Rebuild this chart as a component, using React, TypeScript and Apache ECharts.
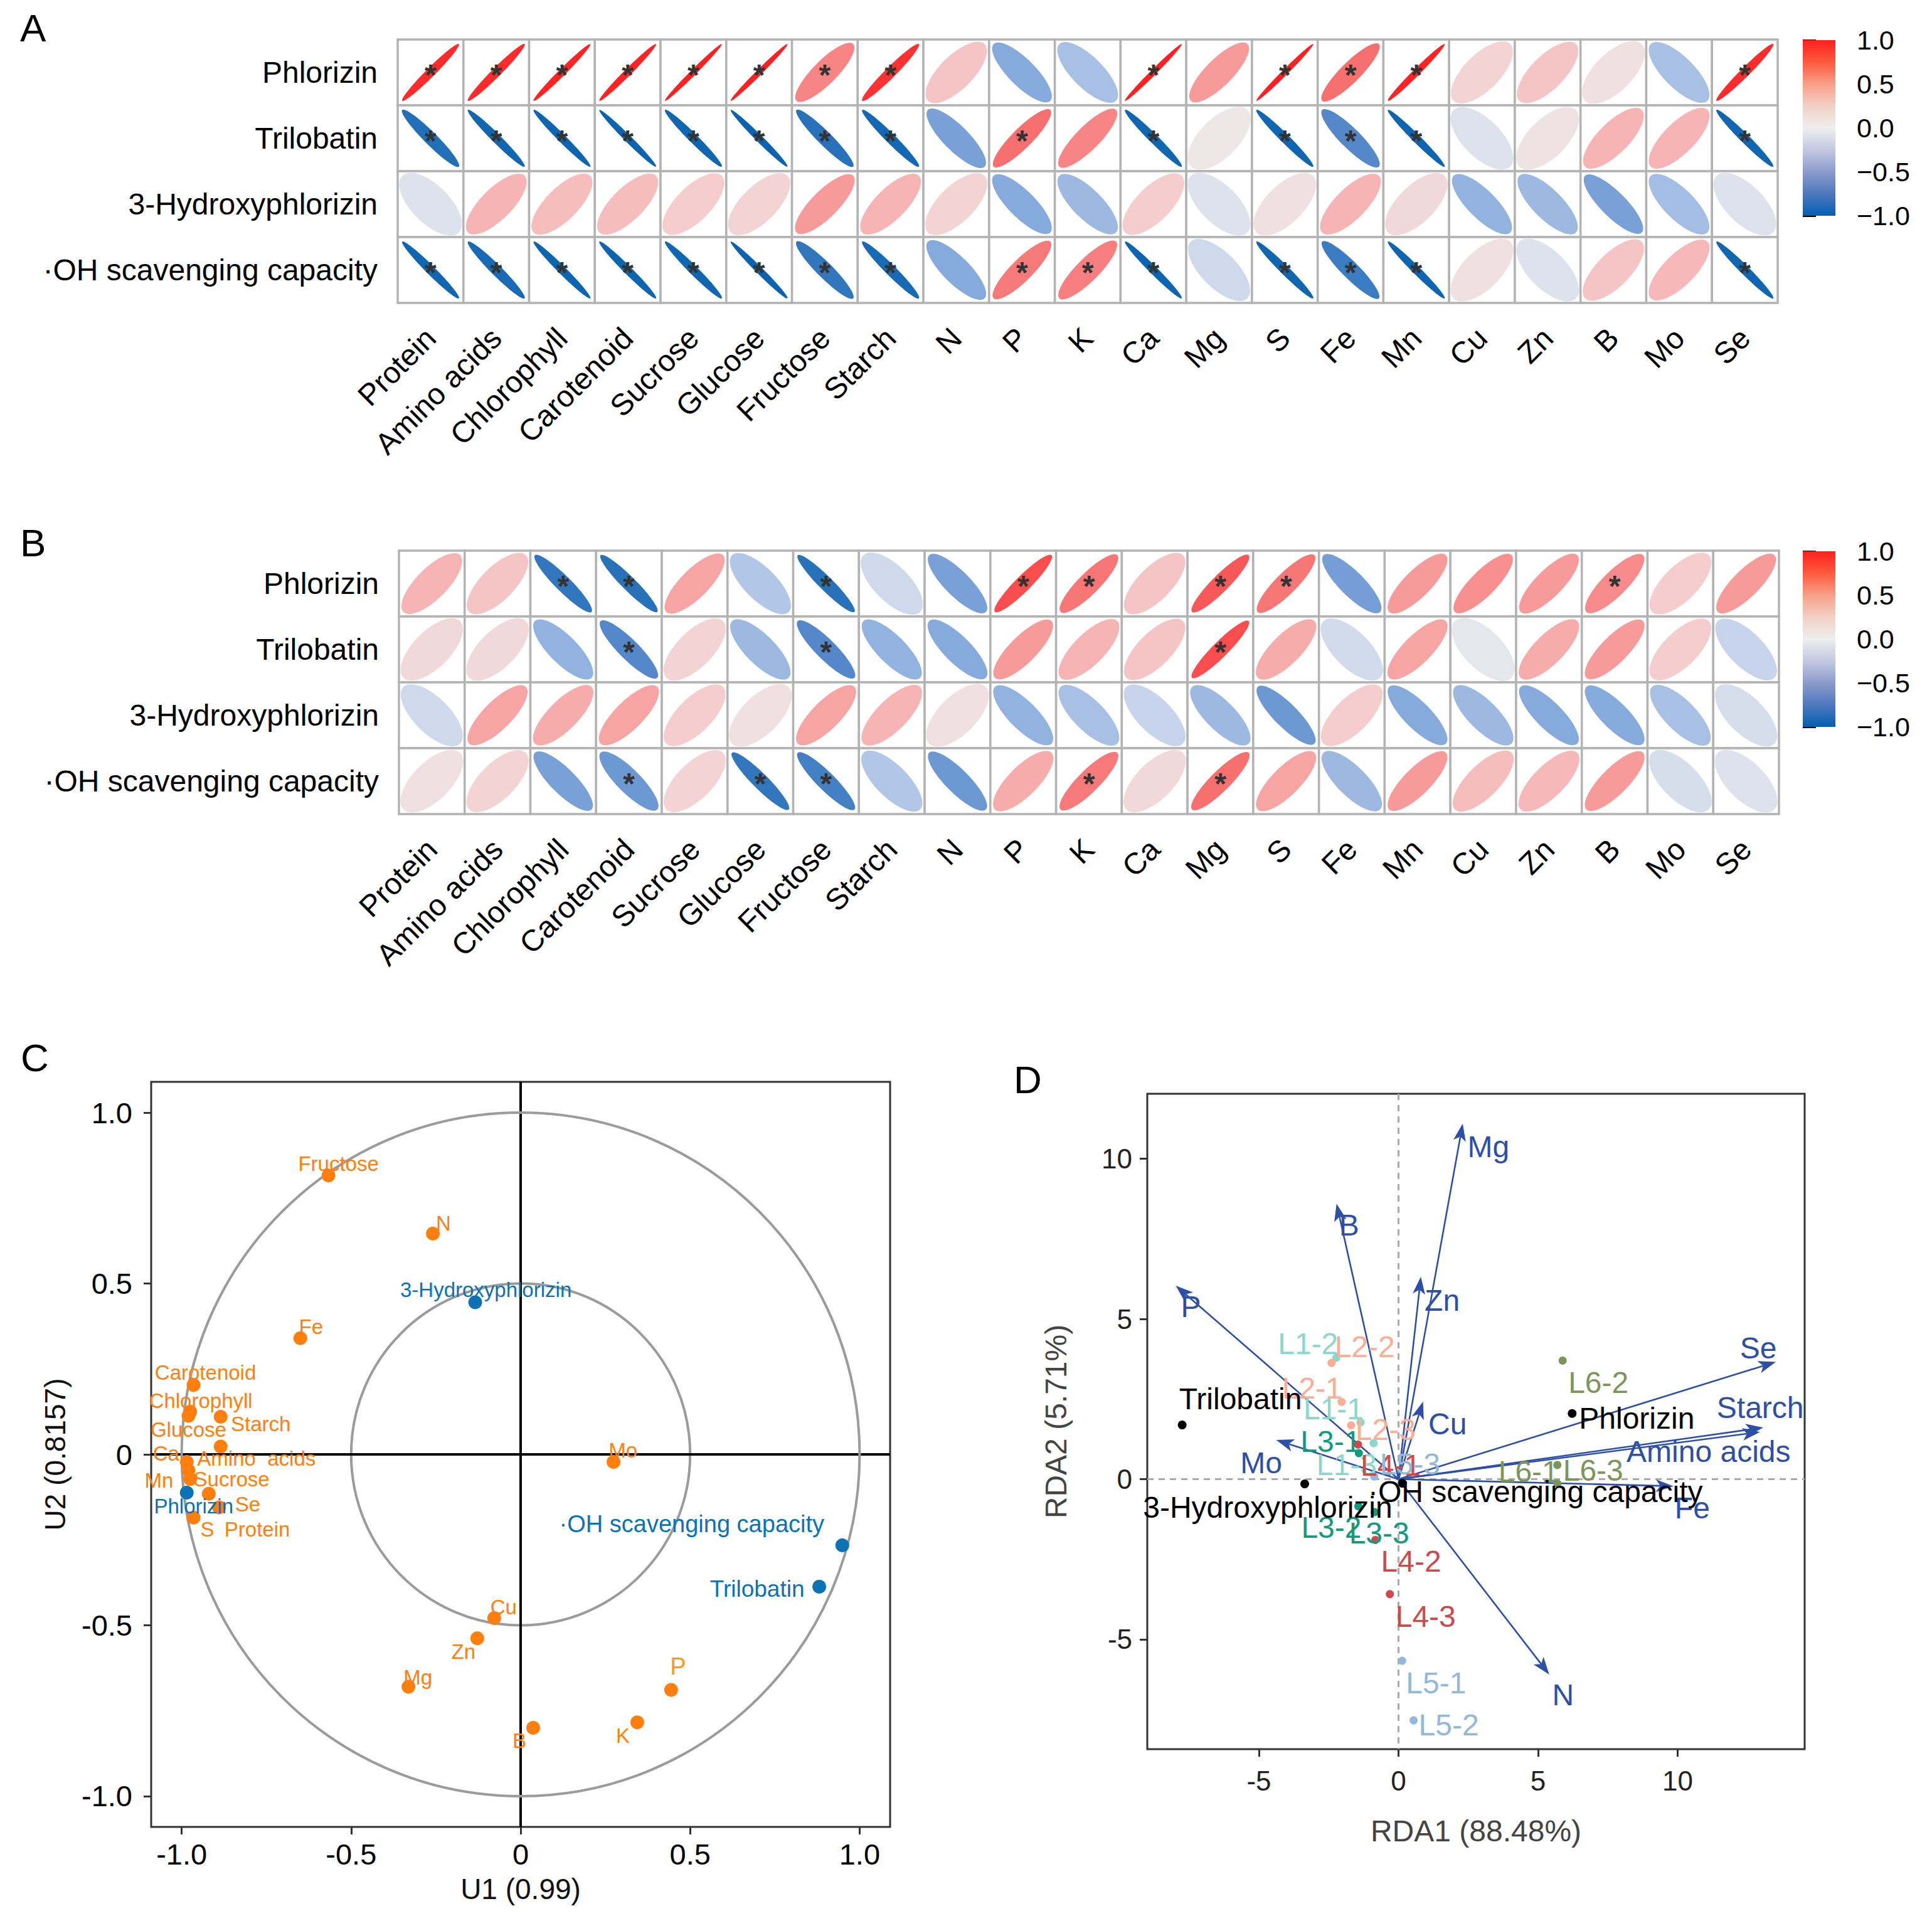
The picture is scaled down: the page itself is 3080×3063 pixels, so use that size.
import React, { useEffect, useRef } from 'react';
import * as echarts from 'echarts';

const FONT = '"Liberation Sans", Arial, Helvetica, sans-serif';

// ---------- Panels A & B : correlation ellipses ----------
const corrVariables = ['Protein', 'Amino acids', 'Chlorophyll', 'Carotenoid', 'Sucrose', 'Glucose', 'Fructose', 'Starch', 'N', 'P', 'K', 'Ca', 'Mg', 'S', 'Fe', 'Mn', 'Cu', 'Zn', 'B', 'Mo', 'Se'];
const compoundNames = ['Phlorizin', 'Trilobatin', '3-Hydroxyphlorizin', '\u00B7OH scavenging capacity'];

const aPhlorizin = [0.95, 0.95, 0.97, 0.97, 0.98, 0.98, 0.65, 0.93, 0.30, -0.55, -0.40, 0.98, 0.55, 0.98, 0.75, 0.97, 0.20, 0.30, 0.10, -0.40, 0.95];
const aTrilobatin = [-0.90, -0.95, -0.96, -0.97, -0.95, -0.97, -0.88, -0.94, -0.60, 0.75, 0.65, -0.95, 0.05, -0.95, -0.75, -0.96, -0.10, 0.08, 0.40, 0.40, -0.95];
const aHydroxy = [-0.10, 0.40, 0.35, 0.35, 0.25, 0.20, 0.55, 0.40, 0.20, -0.55, -0.45, 0.25, -0.10, 0.10, 0.40, 0.15, -0.50, -0.45, -0.60, -0.42, -0.10];
const aOH = [-0.95, -0.93, -0.96, -0.96, -0.95, -0.97, -0.85, -0.93, -0.55, 0.70, 0.68, -0.96, -0.20, -0.95, -0.82, -0.96, 0.10, -0.10, 0.30, 0.38, -0.95];
const aSigPhlorizin = [1, 1, 1, 1, 1, 1, 1, 1, 0, 0, 0, 1, 0, 1, 1, 1, 0, 0, 0, 0, 1];
const aSigTrilobatin = [1, 1, 1, 1, 1, 1, 1, 1, 0, 1, 0, 1, 0, 1, 1, 1, 0, 0, 0, 0, 1];
const aSigHydroxy = [0, 0, 0, 0, 0, 0, 0, 0, 0, 0, 0, 0, 0, 0, 0, 0, 0, 0, 0, 0, 0];
const aSigOH = [1, 1, 1, 1, 1, 1, 1, 1, 0, 1, 1, 1, 0, 1, 1, 1, 0, 0, 0, 0, 1];

const bPhlorizin = [0.40, 0.30, -0.85, -0.88, 0.50, -0.35, -0.88, -0.20, -0.60, 0.85, 0.72, 0.30, 0.82, 0.72, -0.62, 0.55, 0.60, 0.55, 0.62, 0.25, 0.55];
const bTrilobatin = [0.15, 0.15, -0.50, -0.75, 0.20, -0.45, -0.75, -0.50, -0.55, 0.55, 0.40, 0.30, 0.85, 0.45, -0.18, 0.50, -0.05, 0.45, 0.55, 0.25, -0.25];
const bHydroxy = [-0.20, 0.50, 0.45, 0.50, 0.25, 0.10, 0.50, 0.40, 0.10, -0.50, -0.40, -0.25, -0.45, -0.65, 0.25, -0.55, -0.45, -0.55, -0.55, -0.40, -0.15];
const bOH = [0.10, 0.20, -0.60, -0.65, 0.20, -0.85, -0.80, -0.35, -0.65, 0.45, 0.70, 0.15, 0.75, 0.50, -0.45, 0.55, 0.35, 0.38, 0.55, -0.15, -0.10];
const bSigPhlorizin = [0, 0, 1, 1, 0, 0, 1, 0, 0, 1, 1, 0, 1, 1, 0, 0, 0, 0, 1, 0, 0];
const bSigTrilobatin = [0, 0, 0, 1, 0, 0, 1, 0, 0, 0, 0, 0, 1, 0, 0, 0, 0, 0, 0, 0, 0];
const bSigHydroxy = [0, 0, 0, 0, 0, 0, 0, 0, 0, 0, 0, 0, 0, 0, 0, 0, 0, 0, 0, 0, 0];
const bSigOH = [0, 0, 0, 1, 0, 1, 1, 0, 0, 0, 1, 0, 1, 0, 0, 0, 0, 0, 0, 0, 0];

// ---------- Panel C : canonical correlation structure ----------
const cVarNames = ['Fructose', 'N', 'Fe', 'Carotenoid', 'Chlorophyll', 'Glucose', 'Starch', 'Amino  acids', 'Ca', 'Mn', 'Sucrose', 'Se', 'Protein', 'S', 'Mo', 'Cu', 'Zn', 'Mg', 'B', 'K', 'P'];
const cVarU1 = [-0.567, -0.259, -0.650, -0.965, -0.975, -0.980, -0.885, -0.885, -0.985, -0.980, -0.975, -0.920, -0.890, -0.965, 0.274, -0.078, -0.128, -0.331, 0.037, 0.344, 0.444];
const cVarU2 = [0.816, 0.646, 0.340, 0.203, 0.125, 0.113, 0.110, 0.023, -0.022, -0.047, -0.072, -0.115, -0.155, -0.185, -0.022, -0.479, -0.538, -0.680, -0.800, -0.784, -0.689];
const cCompNames = ['Phlorizin', '3-Hydroxyphlorizin', '\u00B7OH scavenging capacity', 'Trilobatin'];
const cCompU1 = [-0.985, -0.134, 0.949, 0.881];
const cCompU2 = [-0.112, 0.445, -0.266, -0.387];
const cCircleRadii = [0.5, 1.0];
const cTicks = [-1, -0.5, 0, 0.5, 1];

// label placement (pixel offsets from each point)
const cVarLabelOffsets = [[16, -19], [17, -16], [17, -18], [19, -20], [17, -17], [0, 22], [64, 11], [57, 19], [-33, -13], [-47, 16], [66, 0], [62, 17], [61, 35], [22, 19], [15, -18], [15, -18], [-22, 21], [15, -15], [-22, 21], [-23, 21], [11, -37]];
const cCompLabelOffsets = [[11, 21], [17, -20], [-240, -34], [-99, 4]];
const cCompLabelSizes = [33, 33, 38, 37];

// ---------- Panel D : RDA biplot ----------
const dArrowNames = ['Mg', 'B', 'P', 'Zn', 'Cu', 'Se', 'Starch', 'Amino acids', 'Mo', 'Fe', 'N'];
const dArrowRDA1 = [2.30, -2.22, -7.98, 0.80, 0.88, 13.52, 13.07, 12.95, -4.38, 9.85, 5.40];
const dArrowRDA2 = [11.10, 8.60, 6.04, 6.32, 2.42, 3.66, 1.61, 1.47, 1.22, -0.22, -6.10];
const dArrowLabelOffsets = [[41, 37], [20, 34], [24, 34], [34, 38], [39, 36], [-28, -22], [-5, -32], [-82, 31], [-24, 36], [30, 35], [22, 33]];

const dSampleNames = ['L1-1', 'L1-2', 'L1-3', 'L2-1', 'L2-2', 'L2-3', 'L3-1', 'L3-2', 'L3-3', 'L4-1', 'L4-2', 'L4-3', 'L5-1', 'L5-2', 'L5-3', 'L6-1', 'L6-2', 'L6-3'];
const dSampleRDA1 = [-1.36, -2.23, -0.89, -2.04, -2.40, -1.70, -1.42, -1.44, -0.85, -1.45, -0.83, -0.31, 0.13, 0.54, -0.87, 5.69, 5.88, 5.69];
const dSampleRDA2 = [1.77, 3.79, 1.12, 2.41, 3.63, 1.68, 0.81, -0.85, -1.03, 1.08, -1.90, -3.59, -5.67, -7.53, 0.08, 0.44, 3.70, -0.14];
const dSampleLabelOffsets = [[-43, -22], [-45, -22], [-43, 34], [-47, -22], [53, -26], [55, 7], [-45, -19], [-43, 34], [7, 33], [52, 33], [57, 34], [57, 36], [54, 35], [56, 7], [57, -20], [-46, 11], [57, 35], [57, -21]];
const dGroups = ['L1', 'L2', 'L3', 'L4', 'L5', 'L6'];
const dGroupColors = ['#8dd6cc', '#fbae93', '#109a7e', '#cc4a4c', '#92b8db', '#7b965b'];

const dRespNames = ['Trilobatin', 'Phlorizin', '3-Hydroxyphlorizin', '\u00B7OH scavenging capacity'];
const dRespRDA1 = [-7.75, 6.22, -3.36, 0.14];
const dRespRDA2 = [1.69, 2.05, -0.15, -0.13];
const dRespLabelOffsets = [[93, -42], [103, 8], [-59, 37], [212, 13]];
const dTicks = [-5, 0, 5, 10];

// ---------- helpers ----------
const ellStops: [number, number[]][] = [
  [-1.0, [0, 94, 172]],
  [-0.75, [84, 136, 202]],
  [-0.5, [146, 178, 224]],
  [-0.25, [200, 212, 235]],
  [0, [236, 236, 238]],
  [0.25, [245, 205, 205]],
  [0.5, [247, 164, 164]],
  [0.75, [247, 112, 112]],
  [1.0, [255, 26, 26]],
];
function corrColor(r: number) {
  const v = Math.max(-1, Math.min(1, r));
  for (let k = 0; k < ellStops.length - 1; k++) {
    const [a, ca] = ellStops[k];
    const [b, cb] = ellStops[k + 1];
    if (v >= a && v <= b) {
      const t = (v - a) / (b - a);
      const c = ca.map((x, i) => Math.round(x + (cb[i] - x) * t));
      return `rgb(${c[0]},${c[1]},${c[2]})`;
    }
  }
  return '#eee';
}

function corrSeries(axisIndex: number, rows: number[][], sigs: number[][]) {
  const data: number[][] = [];
  rows.forEach((row, j) => row.forEach((r, i) => data.push([i, j, r, sigs[j][i]])));
  return {
    type: 'custom',
    xAxisIndex: axisIndex,
    yAxisIndex: axisIndex,
    data,
    silent: true,
    renderItem: (params: any, api: any) => {
      const i = api.value(0);
      const j = api.value(1);
      const r = api.value(2);
      const s = api.value(3);
      const c = api.coord([i, j]);
      const size = api.size([1, 1]);
      const w = size[0];
      const h = size[1];
      const cell = Math.min(w, h);
      const major = 0.61 * cell;
      const minor = Math.max(1, major * 0.5 * Math.sqrt(1 - Math.abs(r)));
      const children: any[] = [
        { type: 'rect', shape: { x: c[0] - w / 2, y: c[1] - h / 2, width: w, height: h }, style: { fill: '#fff', stroke: '#b3b3b3', lineWidth: 3.5 } },
        {
          type: 'ellipse', x: c[0], y: c[1], rotation: r >= 0 ? Math.PI / 4 : -Math.PI / 4,
          shape: { cx: 0, cy: 0, rx: major, ry: minor },
          style: { fill: corrColor(r) },
        },
      ];
      if (s) {
        children.push({ type: 'text', x: c[0], y: c[1] + 4, style: { text: '*', fill: '#333', font: `bold 48px ${FONT}`, align: 'center', verticalAlign: 'middle' } });
      }
      return { type: 'group', children };
    },
  };
}

function colorbarSeries(axisIndex: number) {
  return {
    type: 'custom', xAxisIndex: axisIndex, yAxisIndex: axisIndex, data: [[0.5, 0]], silent: true,
    renderItem: (params: any) => {
      const cs = params.coordSys;
      return {
        type: 'rect', shape: { x: cs.x, y: cs.y, width: cs.width, height: cs.height },
        style: {
          fill: new echarts.graphic.LinearGradient(0, 0, 0, 1, [
            { offset: 0, color: '#ff1f1f' },
            { offset: 0.125, color: '#fd5a3e' },
            { offset: 0.25, color: '#f8a088' },
            { offset: 0.375, color: '#f2d0c6' },
            { offset: 0.5, color: '#eeeeee' },
            { offset: 0.625, color: '#c4c8e2' },
            { offset: 0.75, color: '#8a9ccc' },
            { offset: 0.875, color: '#4f78bd' },
            { offset: 1, color: '#005fb1' },
          ]),
        },
      };
    },
  };
}

const fmtBar = (v: number) => (v < 0 ? '\u2212' : '') + Math.abs(v).toFixed(1);
const fmtC = (v: number) => (Math.abs(v) < 1e-9 ? '0' : v.toFixed(1));

function buildOption() {
  const gridA = { left: 634, top: 63, width: 2200, height: 420 };
  const gridB = { left: 636, top: 878, width: 2200, height: 420 };
  const gridBarA = { left: 2874, top: 64, width: 52, height: 280 };
  const gridBarB = { left: 2874, top: 879, width: 52, height: 280 };
  const gridC = { left: 241, top: 1725, width: 1178, height: 1188, show: true, borderColor: '#333', borderWidth: 3 };
  const gridD = { left: 1829, top: 1744, width: 1048, height: 1045, show: true, borderColor: '#333', borderWidth: 3 };

  const catX = (gi: number) => ({
    type: 'category', gridIndex: gi, data: corrVariables,
    axisLine: { show: false }, axisTick: { show: false }, splitLine: { show: false },
    axisLabel: { rotate: 45, fontSize: 48, color: '#000', margin: 48, interval: 0, fontFamily: FONT },
  });
  const catY = (gi: number) => ({
    type: 'category', gridIndex: gi, data: compoundNames, inverse: true,
    axisLine: { show: false }, axisTick: { show: false }, splitLine: { show: false },
    axisLabel: { fontSize: 48, color: '#000', margin: 32, interval: 0, fontFamily: FONT },
  });
  const barX = (gi: number) => ({ type: 'value', gridIndex: gi, min: 0, max: 1, show: false });
  const barY = (gi: number) => ({
    type: 'value', gridIndex: gi, min: -1, max: 1, interval: 0.5, position: 'right',
    axisLine: { show: false }, splitLine: { show: false },
    axisTick: { show: true, length: 21, lineStyle: { color: '#000', width: 3 } },
    axisLabel: { fontSize: 43, color: '#000', margin: 34, formatter: fmtBar, fontFamily: FONT },
  });

  const valAxis = (gi: number, min: number, max: number, ticks: number[], fmt: any, name: string, gap: number, isY: boolean, labelColor: string, nameColor: string, fs: number, nfs: number, margin: number) => ({
    type: 'value', gridIndex: gi, min, max,
    axisLine: { show: false, onZero: false }, splitLine: { show: false },
    axisTick: { show: true, length: 12, lineStyle: { color: '#333', width: 3 }, customValues: ticks },
    axisLabel: { customValues: ticks, formatter: fmt, fontSize: fs, color: labelColor, margin, fontFamily: FONT },
    name, nameLocation: 'middle', nameGap: gap, nameRotate: isY ? 90 : 0,
    nameTextStyle: { fontSize: nfs, color: nameColor, fontFamily: FONT },
  });

  // C background: circles + zero cross
  const cBackground = {
    type: 'custom', xAxisIndex: 4, yAxisIndex: 4, silent: true, z: 1,
    data: cCircleRadii.map((r) => [r]),
    renderItem: (params: any, api: any) => {
      const r = api.value(0);
      const o = api.coord([0, 0]);
      const rx = api.size([r, 0])[0];
      const ry = api.size([0, r])[1];
      const cs = params.coordSys;
      const children: any[] = [
        { type: 'ellipse', shape: { cx: o[0], cy: o[1], rx, ry }, style: { fill: 'none', stroke: '#9b9b9b', lineWidth: 4 } },
      ];
      if (params.dataIndex === 0) {
        children.push({ type: 'line', shape: { x1: o[0], y1: cs.y, x2: o[0], y2: cs.y + cs.height }, style: { stroke: '#000', lineWidth: 4 } });
        children.push({ type: 'line', shape: { x1: cs.x, y1: o[1], x2: cs.x + cs.width, y2: o[1] }, style: { stroke: '#000', lineWidth: 4 } });
      }
      return { type: 'group', children };
    },
  };

  const cVarSeries = {
    type: 'scatter', xAxisIndex: 4, yAxisIndex: 4, symbolSize: 22, z: 3, silent: true,
    itemStyle: { color: '#ff7f0e', opacity: 1 },
    label: { show: true, position: 'inside', formatter: '{b}', color: '#ff7f0e', fontSize: 33, fontFamily: FONT },
    data: cVarNames.map((n, i) => ({
      name: n, value: [cVarU1[i], cVarU2[i]],
      label: n === 'P' ? { offset: cVarLabelOffsets[i], fontSize: 38, color: '#ff9a18' } : { offset: cVarLabelOffsets[i] },
    })),
  };
  const cCompSeries = {
    type: 'scatter', xAxisIndex: 4, yAxisIndex: 4, symbolSize: 22, z: 4, silent: true,
    itemStyle: { color: '#0b72b4', opacity: 1 },
    label: { show: true, position: 'inside', formatter: '{b}', color: '#0b72b4', fontSize: 33, fontFamily: FONT },
    data: cCompNames.map((n, i) => ({
      name: n, value: [cCompU1[i], cCompU2[i]],
      label: { offset: cCompLabelOffsets[i], fontSize: cCompLabelSizes[i] },
    })),
  };

  // D background dashed zero lines
  const dBackground = {
    type: 'custom', xAxisIndex: 5, yAxisIndex: 5, silent: true, z: 1, data: [[0, 0]],
    renderItem: (params: any, api: any) => {
      const o = api.coord([0, 0]);
      const cs = params.coordSys;
      return {
        type: 'group', children: [
          { type: 'line', shape: { x1: o[0], y1: cs.y, x2: o[0], y2: cs.y + cs.height }, style: { stroke: '#aaaaaa', lineWidth: 3, lineDash: [10, 8] } },
          { type: 'line', shape: { x1: cs.x, y1: o[1], x2: cs.x + cs.width, y2: o[1] }, style: { stroke: '#aaaaaa', lineWidth: 3, lineDash: [10, 8] } },
        ],
      };
    },
  };

  const ARROW = '#2d4fa6';
  const dArrows = {
    type: 'custom', xAxisIndex: 5, yAxisIndex: 5, silent: true, z: 2,
    data: dArrowNames.map((n, i) => [dArrowRDA1[i], dArrowRDA2[i], i]),
    renderItem: (params: any, api: any) => {
      const idx = api.value(2);
      const o = api.coord([0, 0]);
      const e = api.coord([api.value(0), api.value(1)]);
      const dx = e[0] - o[0];
      const dy = e[1] - o[1];
      const L = Math.hypot(dx, dy) || 1;
      const ux = dx / L;
      const uy = dy / L;
      const hl = 28;
      const hw = 10;
      const bx = e[0] - ux * hl;
      const by = e[1] - uy * hl;
      const nx = e[0] - ux * (hl - 7);
      const ny = e[1] - uy * (hl - 7);
      const off = dArrowLabelOffsets[idx];
      return {
        type: 'group', children: [
          { type: 'line', shape: { x1: o[0], y1: o[1], x2: nx, y2: ny }, style: { stroke: ARROW, lineWidth: 2.6 } },
          { type: 'polygon', shape: { points: [[e[0], e[1]], [bx - uy * hw, by + ux * hw], [nx, ny], [bx + uy * hw, by - ux * hw]] }, style: { fill: ARROW } },
          { type: 'text', x: e[0] + off[0], y: e[1] + off[1], style: { text: dArrowNames[idx], fill: ARROW, font: `48px ${FONT}`, align: 'center', verticalAlign: 'middle' } },
        ],
      };
    },
  };

  const dSampleSeries = dGroups.map((g, gi) => ({
    type: 'scatter', xAxisIndex: 5, yAxisIndex: 5, symbolSize: 13, z: 3, silent: true,
    itemStyle: { color: dGroupColors[gi], opacity: 1 },
    label: { show: true, position: 'inside', formatter: '{b}', color: dGroupColors[gi], fontSize: 48, fontFamily: FONT },
    data: dSampleNames
      .map((n, i) => ({ n, i }))
      .filter((d) => d.n.startsWith(g))
      .map(({ n, i }) => ({ name: n, value: [dSampleRDA1[i], dSampleRDA2[i]], label: { offset: dSampleLabelOffsets[i] } })),
  }));

  const dRespSeries = {
    type: 'scatter', xAxisIndex: 5, yAxisIndex: 5, symbolSize: 14, z: 4, silent: true,
    itemStyle: { color: '#000', opacity: 1 },
    label: { show: true, position: 'inside', formatter: '{b}', color: '#000', fontSize: 48, fontFamily: FONT },
    data: dRespNames.map((n, i) => ({ name: n, value: [dRespRDA1[i], dRespRDA2[i]], label: { offset: dRespLabelOffsets[i] } })),
  };

  const letter = (t: string, x: number, y: number) => ({
    type: 'text', x, y, style: { text: t, fill: '#000', font: `62px ${FONT}`, align: 'left', verticalAlign: 'middle' },
  });

  return {
    animation: false,
    backgroundColor: '#ffffff',
    textStyle: { fontFamily: FONT },
    grid: [gridA, gridB, gridBarA, gridBarB, gridC, gridD],
    xAxis: [
      catX(0), catX(1), barX(2), barX(3),
      valAxis(4, -1.09, 1.09, cTicks, fmtC, 'U1 (0.99)', 76, false, '#000', '#111', 47, 46, 20),
      valAxis(5, -9.0, 14.55, dTicks, (v: number) => String(v), 'RDA1 (88.48%)', 106, false, '#222', '#444', 44, 48, 28),
    ],
    yAxis: [
      catY(0), catY(1), barY(2), barY(3),
      valAxis(4, -1.09, 1.09, cTicks, fmtC, 'U2 (0.8157)', 130, true, '#000', '#111', 47, 46, 30),
      valAxis(5, -8.43, 12.03, dTicks, (v: number) => String(v), 'RDA2 (5.71%)', 122, true, '#222', '#444', 44, 48, 24),
    ],
    graphic: [letter('A', 32, 44), letter('B', 32, 865), letter('C', 33, 1686), letter('D', 1616, 1721)],
    series: [
      corrSeries(0, [aPhlorizin, aTrilobatin, aHydroxy, aOH], [aSigPhlorizin, aSigTrilobatin, aSigHydroxy, aSigOH]),
      corrSeries(1, [bPhlorizin, bTrilobatin, bHydroxy, bOH], [bSigPhlorizin, bSigTrilobatin, bSigHydroxy, bSigOH]),
      colorbarSeries(2),
      colorbarSeries(3),
      cBackground,
      cVarSeries,
      cCompSeries,
      dBackground,
      dArrows,
      ...dSampleSeries,
      dRespSeries,
    ],
  };
}

export default function App() {
  const ref = useRef<HTMLDivElement>(null);
  useEffect(() => {
    document.body.style.margin = '0';
    const el = ref.current as HTMLDivElement;
    const chart = echarts.init(el, undefined, { renderer: 'svg', width: 3080, height: 3063 });
    chart.setOption(buildOption() as any);
    return () => {
      chart.dispose();
    };
  }, []);
  return <div ref={ref} style={{ width: 3080, height: 3063, position: 'absolute', left: 0, top: 0, background: '#fff' }} />;
}
